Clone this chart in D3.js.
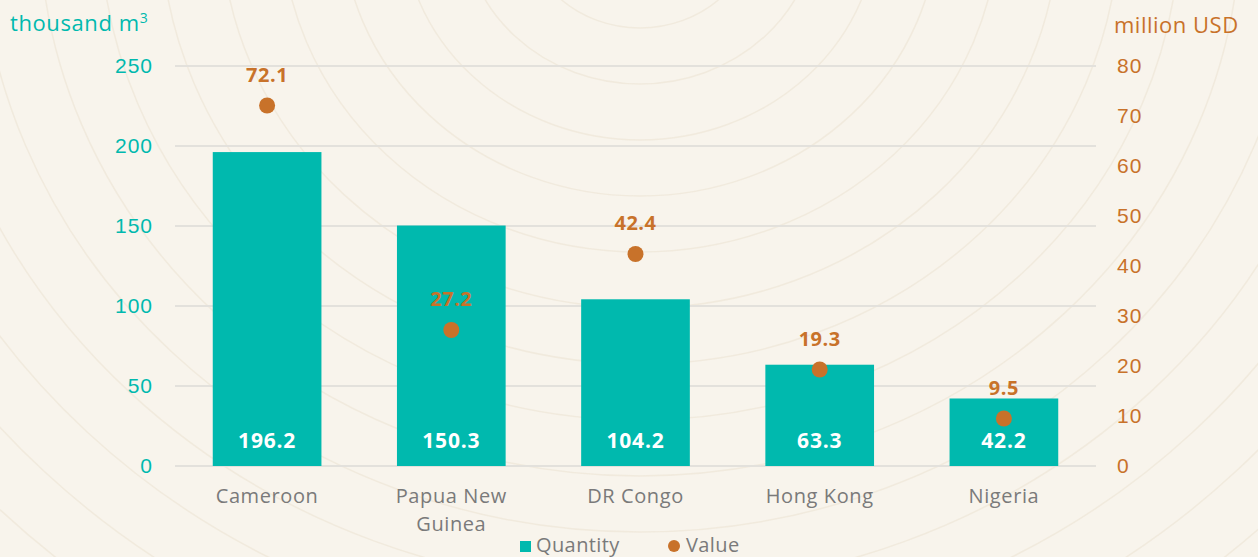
<!DOCTYPE html>
<html>
<head>
<meta charset="utf-8">
<script src="https://cdn.jsdelivr.net/npm/d3@7"></script>
<style>
  body { margin: 0; background: #f8f4ec; overflow: hidden; }
  svg { display: block; font-family: "Open Sans", Lato, sans-serif; }
</style>
</head>
<body>
<script>
// chart data
var countries = ["Cameroon", "Papua New Guinea", "DR Congo", "Hong Kong", "Nigeria"]
var quantity = [196.2, 150.3, 104.2, 63.3, 42.2]
var value = [72.1, 27.2, 42.4, 19.3, 9.5]
var leftTicks = [0, 50, 100, 150, 200, 250]
var rightTicks = [0, 10, 20, 30, 40, 50, 60, 70, 80]

var teal = "#00b9ae"
var orange = "#c8722a"
var grey = "#7a7a7a"
var W = 1258, H = 557
var margin = {left: 175, right: 162, top: 66, bottom: 91}

var svg = d3.select("body").append("svg").attr("width", W).attr("height", H)

// wood rings in the background
var rings = svg.append("g")
for (var r = 40; r < 1200; r += 38 + (r % 7) * 6)
{
  rings.append("ellipse")
       .attr("cx", 640).attr("cy", -80)
       .attr("rx", r * 1.08).attr("ry", r)
       .attr("fill", "none")
       .attr("stroke", "#ebe2d2")
       .attr("stroke-width", 1.5)
       .attr("opacity", 0.55)
}

var x = d3.scaleBand().domain(countries)
          .range([margin.left, W - margin.right])
          .paddingInner(0.41).paddingOuter(0.205)
var yL = d3.scaleLinear().domain([0, 250]).range([H - margin.bottom, margin.top])
var yR = d3.scaleLinear().domain([0, 80]).range([H - margin.bottom, margin.top])

// gridlines
svg.append("g").selectAll("line").data(leftTicks).join("line")
   .attr("x1", margin.left).attr("x2", W - margin.right)
   .attr("y1", function(d) { return yL(d) }).attr("y2", function(d) { return yL(d) })
   .attr("stroke", "#e3e1dc").attr("stroke-width", 2)

// left axis
var leftAxis = svg.append("g")
                  .attr("transform", "translate(153,0)")
                  .call(d3.axisLeft(yL).tickValues(leftTicks).tickSize(0).tickPadding(0))
leftAxis.select(".domain").remove()
leftAxis.selectAll("text").attr("fill", teal).style("font-size", "21px").attr("letter-spacing", "1px")

// right axis
var rightAxis = svg.append("g")
                   .attr("transform", "translate(1117,0)")
                   .call(d3.axisRight(yR).tickValues(rightTicks).tickSize(0).tickPadding(0))
rightAxis.select(".domain").remove()
rightAxis.selectAll("text").attr("fill", orange).style("font-size", "21px").attr("letter-spacing", "1px")

// axis titles
var tl = svg.append("text").attr("x", 10).attr("y", 31)
            .attr("fill", teal).style("font-size", "22px").attr("letter-spacing", "0.6px")
tl.append("tspan").text("thousand m")
tl.append("tspan").text("3").attr("dy", -8).style("font-size", "14px")

svg.append("text").attr("x", 1114).attr("y", 33)
   .attr("fill", orange).style("font-size", "22px")
   .attr("letter-spacing", "0.5px")
   .text("million USD")

// bars
svg.append("g").selectAll("rect").data(countries).join("rect")
   .attr("x", function(d) { return x(d) })
   .attr("width", x.bandwidth())
   .attr("y", function(d, i) { return yL(quantity[i]) })
   .attr("height", function(d, i) { return yL(0) - yL(quantity[i]) })
   .attr("fill", teal)

// bar labels
svg.append("g").selectAll("text").data(countries).join("text")
   .attr("x", function(d) { return x(d) + x.bandwidth() / 2 })
   .attr("y", 448)
   .attr("text-anchor", "middle")
   .attr("fill", "#fff").style("font-size", "21px").style("font-weight", "bold")
   .attr("letter-spacing", "0.8px")
   .text(function(d, i) { return quantity[i].toFixed(1) })

// value dots
svg.append("g").selectAll("circle").data(countries).join("circle")
   .attr("cx", function(d) { return x(d) + x.bandwidth() / 2 })
   .attr("cy", function(d, i) { return yR(value[i]) })
   .attr("r", 8)
   .attr("fill", orange)

svg.append("g").selectAll("text").data(countries).join("text")
   .attr("x", function(d) { return x(d) + x.bandwidth() / 2 })
   .attr("y", function(d, i) { return yR(value[i]) - 24 })
   .attr("text-anchor", "middle")
   .attr("fill", orange).style("font-size", "20px").style("font-weight", "bold")
   .attr("letter-spacing", "0.5px")
   .text(function(d, i) { return value[i].toFixed(1) })

// category labels
var xl = svg.append("g").selectAll("text").data(countries).join("text")
            .attr("x", function(d) { return x(d) + x.bandwidth() / 2 })
            .attr("y", 503)
            .attr("text-anchor", "middle")
            .attr("fill", grey).style("font-size", "20px").attr("letter-spacing", "0.6px")
xl.each(function(d)
{
  var lines = d == "Papua New Guinea" ? ["Papua New", "Guinea"] : [d]
  var t = d3.select(this)
  lines.forEach(function(l, i)
  {
    t.append("tspan").attr("x", t.attr("x")).attr("dy", i == 0 ? 0 : 28).text(l)
  })
})

// legend
var legend = svg.append("g").attr("transform", "translate(520,552)")
legend.append("rect").attr("x", 0).attr("y", -11).attr("width", 11).attr("height", 11).attr("fill", teal)
legend.append("text").attr("x", 16).attr("y", 0).attr("fill", grey).style("font-size", "20px").attr("letter-spacing", "0.4px").text("Quantity")
legend.append("circle").attr("cx", 154).attr("cy", -6).attr("r", 6).attr("fill", orange)
legend.append("text").attr("x", 166).attr("y", 0).attr("fill", grey).style("font-size", "20px").attr("letter-spacing", "0.4px").text("Value")
</script>
</body>
</html>
